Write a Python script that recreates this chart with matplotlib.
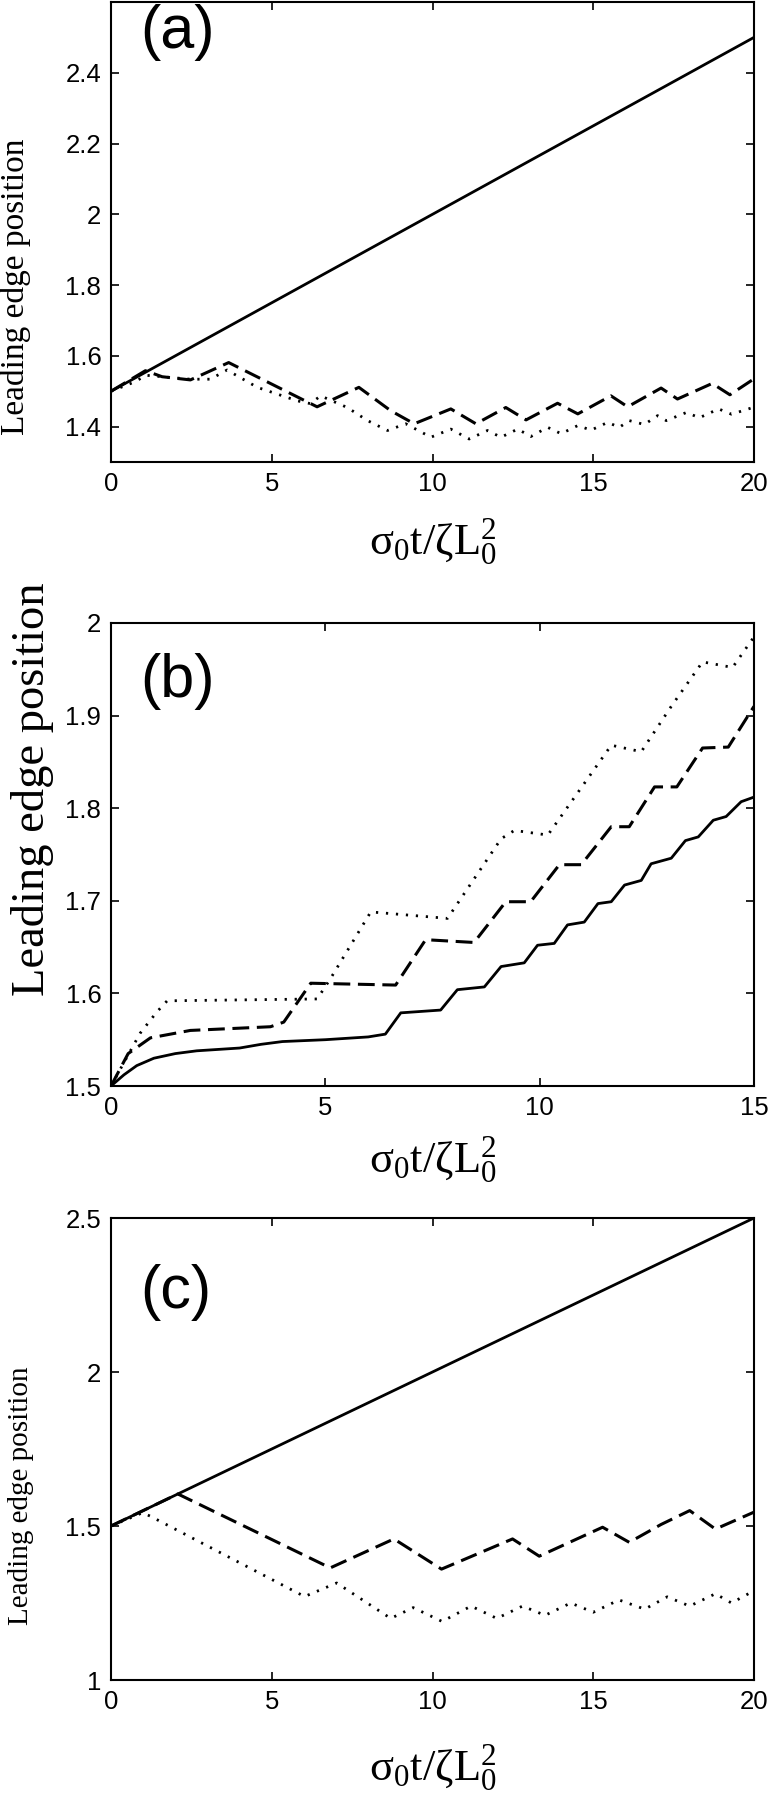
import matplotlib
matplotlib.use("Agg")
import matplotlib.pyplot as plt

# ---- data ----
a_solid_x = [0, 20]
a_solid_y = [1.5, 2.5]
a_dash_x = [0, 1.07, 1.59, 2.47, 3.66, 6.41, 7.71, 8.70, 9.43, 10.57, 11.35, 12.28, 12.91,
            13.89, 14.52, 15.55, 16.07, 17.11, 17.62, 18.7, 19.25, 20]
a_dash_y = [1.5, 1.558, 1.541, 1.532, 1.581, 1.456, 1.511, 1.445, 1.408, 1.45, 1.408, 1.454, 1.419,
            1.466, 1.436, 1.487, 1.456, 1.509, 1.478, 1.522, 1.49, 1.535]
a_dot_x = [0, 0.7, 1.1, 2.46, 3.09, 3.61, 4.55, 5.79, 6.2, 6.52, 7.35, 7.98, 8.6, 9.17, 9.95,
           10.57, 11.14, 11.71, 12.13, 12.65, 13.06, 13.58, 14.0, 14.52, 14.93, 15.45, 15.81,
           16.12, 16.59, 17.0, 17.27, 17.9, 18.3, 18.9, 19.3, 20]
a_dot_y = [1.5, 1.525, 1.545, 1.534, 1.534, 1.56, 1.511, 1.473, 1.465, 1.487, 1.454, 1.417, 1.389,
           1.408, 1.37, 1.393, 1.365, 1.389, 1.37, 1.393, 1.372, 1.398, 1.38, 1.403, 1.39, 1.412,
           1.398, 1.417, 1.406, 1.431, 1.417, 1.44, 1.425, 1.45, 1.435, 1.455]

b_solid_x = [0, 0.3, 0.6, 1.0, 1.5, 2.0, 3.0, 3.5, 4.0, 5.0, 6.0, 6.4, 6.76, 7.69, 8.08, 8.71,
             9.1, 9.64, 9.95, 10.34, 10.65, 11.04, 11.36, 11.67, 11.98, 12.37, 12.6, 13.07,
             13.4, 13.7, 14.05, 14.35, 14.7, 15]
b_solid_y = [1.5, 1.512, 1.522, 1.53, 1.535, 1.538, 1.541, 1.545, 1.548, 1.55, 1.553, 1.556,
             1.579, 1.582, 1.604, 1.607, 1.629, 1.633, 1.652, 1.654, 1.674, 1.677, 1.697, 1.699,
             1.717, 1.722, 1.74, 1.746, 1.765, 1.769, 1.787, 1.791, 1.807, 1.812]
b_dash_x = [0, 0.4, 0.92, 1.85, 3.72, 4.03, 4.66, 6.64, 7.34, 8.47, 9.21, 9.79, 10.46, 10.97,
            11.67, 12.09, 12.68, 13.2, 13.8, 14.4, 15]
b_dash_y = [1.5, 1.535, 1.552, 1.56, 1.564, 1.569, 1.611, 1.609, 1.658, 1.655, 1.699, 1.699,
            1.739, 1.739, 1.78, 1.78, 1.823, 1.823, 1.865, 1.866, 1.91]
b_dot_x = [0, 0.68, 1.07, 1.31, 4.81, 5.12, 6.06, 7.85, 9.1, 9.41, 10.19, 11.67, 12.37, 13.07,
           13.8, 14.5, 15]
b_dot_y = [1.5, 1.557, 1.58, 1.592, 1.594, 1.616, 1.688, 1.681, 1.767, 1.776, 1.771, 1.868,
           1.861, 1.91, 1.958, 1.952, 1.985]

c_solid_x = [0, 20]
c_solid_y = [1.5, 2.5]
c_dash_x = [0, 2.08, 6.82, 8.8, 10.28, 12.49, 13.32, 15.29, 16.12, 17.11, 18.0, 18.8, 20]
c_dash_y = [1.5, 1.604, 1.364, 1.458, 1.36, 1.458, 1.402, 1.496, 1.447, 1.505, 1.55, 1.49, 1.545]
c_dot_x = [0, 0.98, 1.22, 6.02, 7.02, 8.7, 9.4, 10.3, 11.2, 12.0, 12.8, 13.5, 14.3, 15.0, 15.8,
           16.6, 17.3, 18.0, 18.8, 19.3, 20]
c_dot_y = [1.5, 1.543, 1.532, 1.271, 1.315, 1.2, 1.235, 1.19, 1.24, 1.2, 1.24, 1.21, 1.25, 1.22,
           1.26, 1.23, 1.27, 1.24, 1.28, 1.25, 1.29]

a_yticks = [1.4, 1.6, 1.8, 2.0, 2.2, 2.4]
a_ylabels = ["1.4", "1.6", "1.8", "2", "2.2", "2.4"]
a_xticks = [0, 5, 10, 15, 20]
b_yticks = [1.5, 1.6, 1.7, 1.8, 1.9, 2.0]
b_ylabels = ["1.5", "1.6", "1.7", "1.8", "1.9", "2"]
b_xticks = [0, 5, 10, 15]
c_yticks = [1.0, 1.5, 2.0, 2.5]
c_ylabels = ["1", "1.5", "2", "2.5"]
c_xticks = [0, 5, 10, 15, 20]

plt.rcParams['mathtext.fontset'] = 'custom'
plt.rcParams['mathtext.rm'] = 'Liberation Serif'
plt.rcParams['mathtext.it'] = 'Liberation Serif'

W, H = 770, 1800
fig = plt.figure(figsize=(W / 100, H / 100), dpi=100)

def box(l, t, r, b):
    return [l / W, 1 - b / H, (r - l) / W, (b - t) / H]

panels = [
    dict(rect=box(111, 2, 754, 462), xlim=(0, 20), ylim=(1.3, 2.6), xt=a_xticks, yt=a_yticks,
         yl=a_ylabels, lab="(a)", laby=0.995, ylfs=24, ylx=-0.148, yly=0.38, xly=-0.175,
         lines=[(a_solid_x, a_solid_y, '-'), (a_dash_x, a_dash_y, '--'), (a_dot_x, a_dot_y, ':')]),
    dict(rect=box(111, 623, 754, 1086), xlim=(0, 15), ylim=(1.5, 2.0), xt=b_xticks, yt=b_yticks,
         yl=b_ylabels, lab="(b)", laby=0.935, ylfs=33.5, ylx=-0.122, yly=0.64, xly=-0.16,
         lines=[(b_solid_x, b_solid_y, '-'), (b_dash_x, b_dash_y, '--'), (b_dot_x, b_dot_y, ':')]),
    dict(rect=box(111, 1218, 754, 1680), xlim=(0, 20), ylim=(1.0, 2.5), xt=c_xticks, yt=c_yticks,
         yl=c_ylabels, lab="(c)", laby=0.90, ylfs=21, ylx=-0.14, yly=0.40, xly=-0.19,
         lines=[(c_solid_x, c_solid_y, '-'), (c_dash_x, c_dash_y, '--'), (c_dot_x, c_dot_y, ':')]),
]

for p in panels:
    ax = fig.add_axes(p['rect'])
    for x, y, ls in p['lines']:
        if ls == '-':
            ax.plot(x, y, color='black', lw=2.0, ls='-')
        elif ls == '--':
            ax.plot(x, y, color='black', lw=2.2, ls=(0, (5.5, 2.5)))
        else:
            ax.plot(x, y, color='black', lw=2.0, ls=(0, (0.8, 2.8)))
    ax.set_xlim(*p['xlim'])
    ax.set_ylim(*p['ylim'])
    ax.set_xticks(p['xt'])
    ax.set_xticklabels([str(v) for v in p['xt']])
    ax.set_yticks(p['yt'])
    ax.set_yticklabels(p['yl'])
    ax.tick_params(direction='in', length=6, width=1.2, top=True, right=True,
                   labelsize=18.5, pad=7)
    for lbl in ax.get_xticklabels() + ax.get_yticklabels():
        lbl.set_family('Liberation Sans')
    for s in ax.spines.values():
        s.set_linewidth(1.5)
    ax.set_xlabel(r'$\mathrm{\sigma_0 t/\zeta L_0^2}$', fontsize=32)
    ax.xaxis.set_label_coords(0.5, p['xly'])
    ax.xaxis.label.set_verticalalignment('center')
    ax.set_ylabel('Leading edge position', fontsize=p['ylfs'], family='Liberation Serif')
    ax.yaxis.set_label_coords(p['ylx'], p['yly'])
    ax.yaxis.label.set_verticalalignment('center')
    ax.text(0.045, p['laby'], p['lab'], transform=ax.transAxes, fontsize=44,
            family='Liberation Sans', va='top', ha='left')

fig.savefig('out.png', dpi=100)
